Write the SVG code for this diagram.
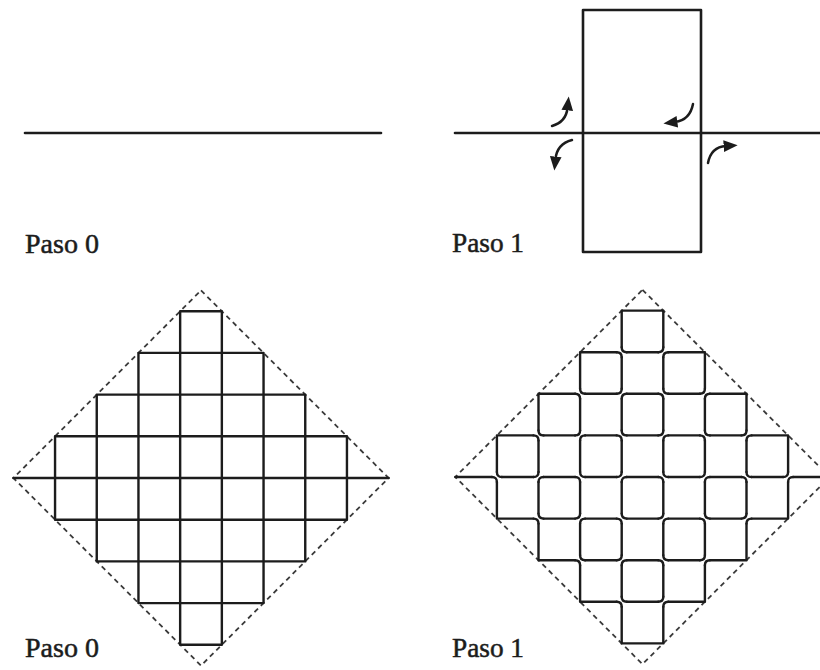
<svg xmlns="http://www.w3.org/2000/svg" width="820" height="670" viewBox="0 0 820 670">
<style>
.ln{fill:none;stroke:#1c1c1c;stroke-width:2.6;stroke-linecap:round;stroke-linejoin:round}
.gr{fill:none;stroke:#1c1c1c;stroke-width:2.4;stroke-linecap:round;stroke-linejoin:round;vector-effect:non-scaling-stroke}
.dash{fill:none;stroke:#3a3a3a;stroke-width:1.8;stroke-dasharray:5 4}
.arr{fill:none;stroke:#1c1c1c;stroke-width:2.5;stroke-linecap:round}
.lbl{font-family:"Liberation Serif","Times New Roman",serif;font-size:27px;fill:#1c1c1c;stroke:#1c1c1c;stroke-width:0.5}
</style>
<defs>
<marker id="ah" markerUnits="userSpaceOnUse" markerWidth="14" markerHeight="14" refX="2" refY="5" orient="auto" viewBox="0 0 12 10">
<path d="M0,0 L12,5 L0,10 Z" fill="#1c1c1c"/>
</marker>
</defs>

<g id="paso0-top">
<path class="ln" d="M25,133 H381"/>
<text class="lbl" x="25" y="253" textLength="74" lengthAdjust="spacingAndGlyphs">Paso 0</text>
</g>

<g id="paso1-top">
<rect class="ln" x="583" y="10" width="118" height="242"/>
<path class="ln" d="M455,133 H820"/>
<text class="lbl" x="452" y="252" textLength="72" lengthAdjust="spacingAndGlyphs">Paso 1</text>
</g>

<g id="connectors">
<path class="arr" marker-end="url(#ah)" d="M552,126 Q566,122 567.5,108"/>
<path class="arr" marker-end="url(#ah)" d="M572,140 Q557,144 555.5,159"/>
<path class="arr" marker-end="url(#ah)" d="M693,104 Q690,120 675,122"/>
<path class="arr" marker-end="url(#ah)" d="M708,163 Q711,147 726,146"/>
</g>

<g id="paso0-grid">
<path class="dash" d="M201,290.4 L388.6,478 L201,665.6 L13.4,478 Z"/>
<g transform="translate(201,478) scale(41.7)">
<path class="gr" d="M-0.5,-4H0.5 M-1.5,-3H1.5 M-2.5,-2H2.5 M-3.5,-1H3.5 M-4.5,0H4.5 M-3.5,1H3.5 M-2.5,2H2.5 M-1.5,3H1.5 M-0.5,4H0.5 M-3.5,-1V1 M-2.5,-2V2 M-1.5,-3V3 M-0.5,-4V4 M0.5,-4V4 M1.5,-3V3 M2.5,-2V2 M3.5,-1V1"/>
</g>
<text class="lbl" x="25" y="657" textLength="74" lengthAdjust="spacingAndGlyphs">Paso 0</text>
</g>

<g id="paso1-grid">
<path class="dash" d="M642.5,289.8 L829.7,477 L642.5,664.2 L455.3,477 Z"/>
<g transform="translate(642.5,477) scale(41.6)">
<path class="gr" d="M-0.5,-4H0.5
M-1.5,-3H-0.62 M-0.38,-3H0.38 M0.62,-3H1.5
M-2.5,-2H-1.62 M-1.38,-2H-0.62 M-0.38,-2H0.38 M0.62,-2H1.38 M1.62,-2H2.5
M-3.5,-1H-2.62 M-2.38,-1H-1.62 M-1.38,-1H-0.62 M-0.38,-1H0.38 M0.62,-1H1.38 M1.62,-1H2.38 M2.62,-1H3.5
M-4.5,0H-3.62 M-3.38,0H-2.62 M-2.38,0H-1.62 M-1.38,0H-0.62 M-0.38,0H0.38 M0.62,0H1.38 M1.62,0H2.38 M2.62,0H3.38 M3.62,0H4.5
M-3.5,1H-2.62 M-2.38,1H-1.62 M-1.38,1H-0.62 M-0.38,1H0.38 M0.62,1H1.38 M1.62,1H2.38 M2.62,1H3.5
M-2.5,2H-1.62 M-1.38,2H-0.62 M-0.38,2H0.38 M0.62,2H1.38 M1.62,2H2.5
M-1.5,3H-0.62 M-0.38,3H0.38 M0.62,3H1.5
M-0.5,4H0.5
M-3.5,-1V-0.12 M-3.5,0.12V1
M-2.5,-2V-1.12 M-2.5,-0.88V-0.12 M-2.5,0.12V0.88 M-2.5,1.12V2
M-1.5,-3V-2.12 M-1.5,-1.88V-1.12 M-1.5,-0.88V-0.12 M-1.5,0.12V0.88 M-1.5,1.12V1.88 M-1.5,2.12V3
M-0.5,-4V-3.12 M-0.5,-2.88V-2.12 M-0.5,-1.88V-1.12 M-0.5,-0.88V-0.12 M-0.5,0.12V0.88 M-0.5,1.12V1.88 M-0.5,2.12V2.88 M-0.5,3.12V4
M0.5,-4V-3.12 M0.5,-2.88V-2.12 M0.5,-1.88V-1.12 M0.5,-0.88V-0.12 M0.5,0.12V0.88 M0.5,1.12V1.88 M0.5,2.12V2.88 M0.5,3.12V4
M1.5,-3V-2.12 M1.5,-1.88V-1.12 M1.5,-0.88V-0.12 M1.5,0.12V0.88 M1.5,1.12V1.88 M1.5,2.12V3
M2.5,-2V-1.12 M2.5,-0.88V-0.12 M2.5,0.12V0.88 M2.5,1.12V2
M3.5,-1V-0.12 M3.5,0.12V1"/>
<path class="gr" d="
M-0.5,-3.12Q-0.5,-3 -0.38,-3 M-0.5,-2.88Q-0.5,-3 -0.62,-3
M0.5,-3.12Q0.5,-3 0.38,-3 M0.5,-2.88Q0.5,-3 0.62,-3
M-1.5,-2.12Q-1.5,-2 -1.38,-2 M-1.5,-1.88Q-1.5,-2 -1.62,-2
M-0.5,-2.12Q-0.5,-2 -0.62,-2 M-0.5,-1.88Q-0.5,-2 -0.38,-2
M0.5,-2.12Q0.5,-2 0.62,-2 M0.5,-1.88Q0.5,-2 0.38,-2
M1.5,-2.12Q1.5,-2 1.38,-2 M1.5,-1.88Q1.5,-2 1.62,-2
M-2.5,-1.12Q-2.5,-1 -2.38,-1 M-2.5,-0.88Q-2.5,-1 -2.62,-1
M-1.5,-1.12Q-1.5,-1 -1.62,-1 M-1.5,-0.88Q-1.5,-1 -1.38,-1
M-0.5,-1.12Q-0.5,-1 -0.38,-1 M-0.5,-0.88Q-0.5,-1 -0.62,-1
M0.5,-1.12Q0.5,-1 0.38,-1 M0.5,-0.88Q0.5,-1 0.62,-1
M1.5,-1.12Q1.5,-1 1.62,-1 M1.5,-0.88Q1.5,-1 1.38,-1
M2.5,-1.12Q2.5,-1 2.38,-1 M2.5,-0.88Q2.5,-1 2.62,-1
M-3.5,-0.12Q-3.5,0 -3.38,0 M-3.5,0.12Q-3.5,0 -3.62,0
M-2.5,-0.12Q-2.5,0 -2.62,0 M-2.5,0.12Q-2.5,0 -2.38,0
M-1.5,-0.12Q-1.5,0 -1.38,0 M-1.5,0.12Q-1.5,0 -1.62,0
M-0.5,-0.12Q-0.5,0 -0.62,0 M-0.5,0.12Q-0.5,0 -0.38,0
M0.5,-0.12Q0.5,0 0.62,0 M0.5,0.12Q0.5,0 0.38,0
M1.5,-0.12Q1.5,0 1.38,0 M1.5,0.12Q1.5,0 1.62,0
M2.5,-0.12Q2.5,0 2.62,0 M2.5,0.12Q2.5,0 2.38,0
M3.5,-0.12Q3.5,0 3.38,0 M3.5,0.12Q3.5,0 3.62,0
M-2.5,0.88Q-2.5,1 -2.38,1 M-2.5,1.12Q-2.5,1 -2.62,1
M-1.5,0.88Q-1.5,1 -1.62,1 M-1.5,1.12Q-1.5,1 -1.38,1
M-0.5,0.88Q-0.5,1 -0.38,1 M-0.5,1.12Q-0.5,1 -0.62,1
M0.5,0.88Q0.5,1 0.38,1 M0.5,1.12Q0.5,1 0.62,1
M1.5,0.88Q1.5,1 1.62,1 M1.5,1.12Q1.5,1 1.38,1
M2.5,0.88Q2.5,1 2.38,1 M2.5,1.12Q2.5,1 2.62,1
M-1.5,1.88Q-1.5,2 -1.38,2 M-1.5,2.12Q-1.5,2 -1.62,2
M-0.5,1.88Q-0.5,2 -0.62,2 M-0.5,2.12Q-0.5,2 -0.38,2
M0.5,1.88Q0.5,2 0.62,2 M0.5,2.12Q0.5,2 0.38,2
M1.5,1.88Q1.5,2 1.38,2 M1.5,2.12Q1.5,2 1.62,2
M-0.5,2.88Q-0.5,3 -0.38,3 M-0.5,3.12Q-0.5,3 -0.62,3
M0.5,2.88Q0.5,3 0.38,3 M0.5,3.12Q0.5,3 0.62,3"/>
</g>
<text class="lbl" x="452" y="657" textLength="72" lengthAdjust="spacingAndGlyphs">Paso 1</text>
</g>
</svg>
